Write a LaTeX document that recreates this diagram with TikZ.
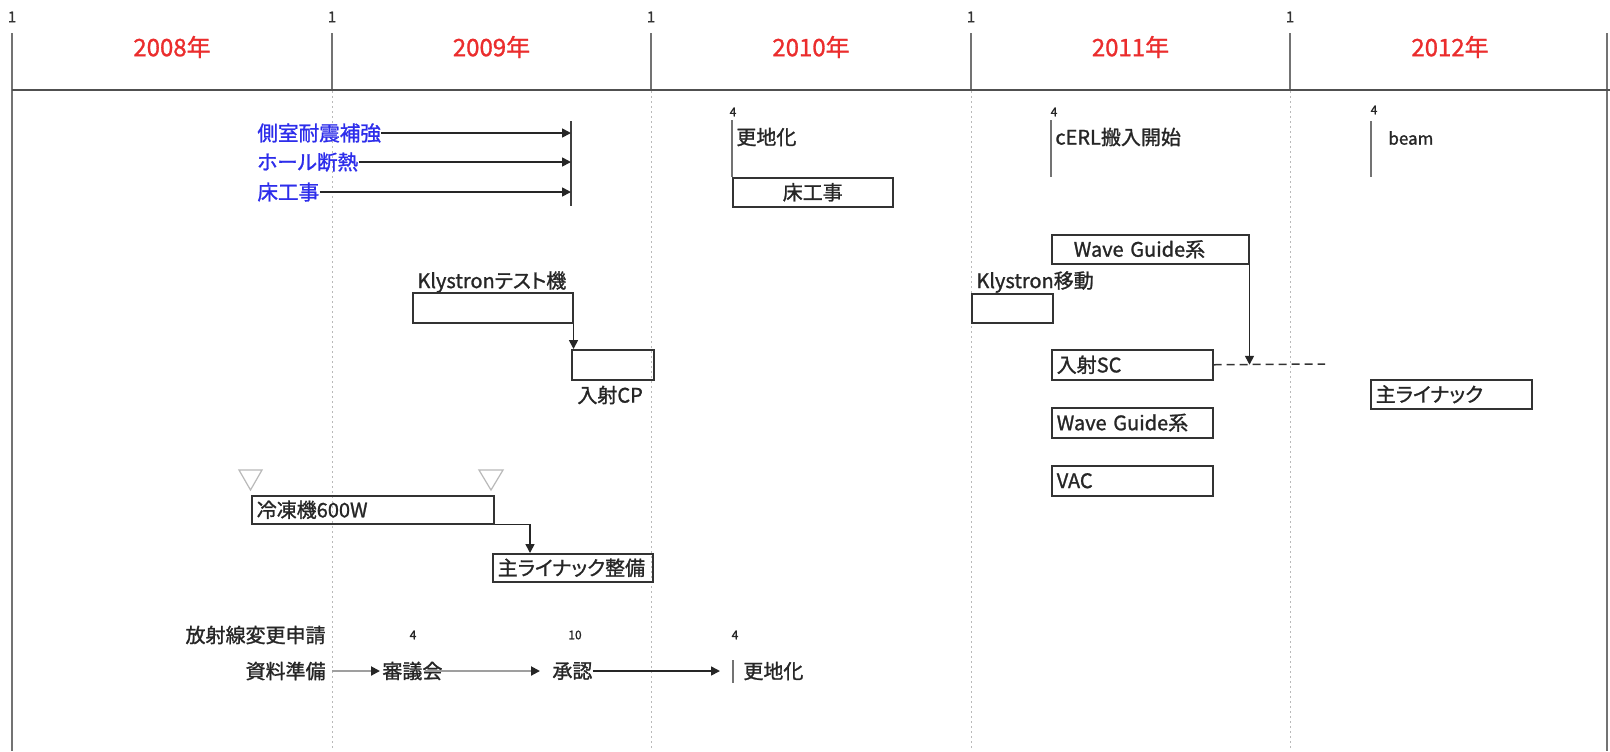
\documentclass[tikz,border=0pt]{standalone}
\usepackage{fontspec}
\setmainfont{Noto Sans CJK JP}[RawFeature=+palt]
\newfontfamily\jpmed{Noto Sans CJK JP}[RawFeature=+palt, FakeBold=1.2]
\usetikzlibrary{arrows.meta}
\definecolor{yearred}{RGB}{235,45,45}
\definecolor{jpblue}{RGB}{45,45,235}
\definecolor{gridgray}{RGB}{185,185,185}
\definecolor{linegray}{RGB}{115,115,115}
\definecolor{hdrline}{RGB}{80,80,80}
\begin{document}
\begin{tikzpicture}[x=0.5pt,y=-0.5pt,
  txt/.style={inner sep=0pt, font=\jpmed\fontsize{10}{12}\selectfont, text=black!85},
  bluetxt/.style={txt, text=jpblue, font=\jpmed\fontsize{10.3}{12}\selectfont},
  num/.style={inner sep=0pt, font=\jpmed\fontsize{6}{7}\selectfont, text=black!85},
  one/.style={inner sep=0pt, font=\jpmed\fontsize{7.5}{9}\selectfont, text=black!80},
  year/.style={inner sep=0pt, font=\jpmed\fontsize{12}{14}\selectfont, text=yearred},
  bx/.style={draw=black!80, line width=0.75pt, inner xsep=2.5pt, inner ysep=0pt, anchor=north west, font=\jpmed\fontsize{10}{12}\selectfont, text=black!85},
  arr/.style={-{Triangle[length=4.5pt,width=4.5pt]}, line width=0.8pt, draw=black!85},
  garr/.style={-{Triangle[length=4.5pt,width=4.5pt,color=black!85]}, line width=1pt, draw=gray!75},
  marker/.style={draw=linegray, line width=1pt},
  hdr/.style={draw=linegray, line width=1pt},
  grid/.style={draw=gridgray, line width=0.5pt, dash pattern=on 1pt off 1.5pt},
  tri/.style={draw=gray!55, line width=0.6pt}]
\useasboundingbox (0,0) rectangle (1610,751);
\fill[white] (0,0) rectangle (1610,751);

% ---------- header ----------
\draw[hdr] (12,33) -- (12,751);
\draw[hdr] (1607,33) -- (1607,751);
\foreach \x in {332,651,971,1290} {
  \draw[hdr] (\x,33) -- (\x,90);
  \draw[grid] (\x,91) -- (\x,751);
}
\draw[draw=hdrline, line width=1pt] (12,90) -- (1610,90);
\node[one] (oneA) at (12,17) {1};
\node[one] (oneB) at (332,17) {1};
\node[one] (oneC) at (651,17) {1};
\node[one] (oneD) at (971,17) {1};
\node[one] (oneE) at (1290,17) {1};
\node[year] (y2008) at (172,47) {2008年};
\node[year] (y2009) at (491.5,47) {2009年};
\node[year] (y2010) at (811,47) {2010年};
\node[year] (y2011) at (1130.5,47) {2011年};
\node[year] (y2012) at (1450,47) {2012年};

% ---------- building works ----------
\node[bluetxt, anchor=west] (seismic) at (257,133) {側室耐震補強};
\node[bluetxt, anchor=west] (holeins) at (257,162) {ホール断熱};
\node[bluetxt, anchor=west] (floorA) at (257,192) {床工事};
\coordinate (vtop) at (571,121);
\coordinate (vbot) at (571,206);
\draw[marker, draw=black!75] (vtop) -- (vbot);
\draw[arr] (seismic.east) -- (seismic.east -| vtop);
\draw[arr] (holeins.east) -- (holeins.east -| vtop);
\draw[arr] (floorA.east) -- (floorA.east -| vtop);

% 2010 top
\node[num] (n4a) at (733,112) {4};
\coordinate (m1top) at (732,120);
\node[bx, minimum width=80pt, minimum height=14.5pt, text width=75pt, align=center] (floorB) at (732,177) {床工事};
\draw[marker] (m1top) -- (floorB.north west);
\node[txt, anchor=west] (koA) at (736,137) {更地化};

% 2011 top
\node[num] (n4b) at (1054,112) {4};
\coordinate (m2top) at (1051,120);
\coordinate (m2bot) at (1051,177);
\draw[marker] (m2top) -- (m2bot);
\node[txt, anchor=west] (cerl) at (1055,137) {cERL搬入開始};

% 2012 top
\node[num] (n4c) at (1374,110) {4};
\coordinate (m3top) at (1371,121);
\coordinate (m3bot) at (1371,177);
\draw[marker] (m3top) -- (m3bot);
\node[txt, anchor=west, font=\jpmed\fontsize{8.5}{10}\selectfont] (beam) at (1388,138) {beam};

% ---------- klystron test ----------
\node[txt, anchor=west] (klyT) at (417,282) {Klystronテスト機};
\node[bx, minimum width=80pt, minimum height=15pt] (klyBox) at (412,292) {};
\node[bx, minimum width=41pt, minimum height=15pt] (cpBox) at (571,349) {};
\node[txt, anchor=west] (cpLbl) at (577,395) {入射CP};
\draw[arr] (klyBox.south east) -- (klyBox.south east |- cpBox.north);

% ---------- 2011 components ----------
\node[bx, minimum width=98.5pt, minimum height=14.5pt, text width=93.5pt, align=left] (wgTop) at (1051,234) {\hspace*{8.5pt}Wave Guide系};
\node[txt, anchor=west] (klyM) at (976,282) {Klystron移動};
\node[bx, minimum width=40.5pt, minimum height=14.5pt] (klyMBox) at (971,293) {};
\node[bx, minimum width=80.5pt, minimum height=15pt, text width=75.5pt, align=left] (injSC) at (1051,349) {入射SC};
\coordinate (dashEnd) at (1325,364);
\draw[draw=black!80, line width=0.75pt, dash pattern=on 4pt off 2.5pt] (injSC.east) -- (dashEnd);
\draw[arr] (wgTop.south east) -- (wgTop.south east |- injSC.east);
\node[bx, minimum width=80.5pt, minimum height=15pt, text width=75.5pt, align=left] (wg2) at (1051,407) {Wave Guide系};
\node[bx, minimum width=80.5pt, minimum height=15pt, text width=75.5pt, align=left] (vac) at (1051,465) {VAC};

% 2012 main linac
\node[bx, minimum width=80.5pt, minimum height=14.5pt, text width=75.5pt, align=left] (mlin) at (1370,379) {主ライナック};

% ---------- refrigerator ----------
\draw[tri] (239,470) -- (262,470) -- (250.5,490) -- cycle;
\draw[tri] (479,470) -- (503,470) -- (491,490) -- cycle;
\node[bx, minimum width=121pt, minimum height=14pt, text width=116pt, align=left] (refrig) at (251,495) {冷凍機600W};
\node[bx, minimum width=80pt, minimum height=14pt, text width=75pt, align=left] (mlp) at (492,553) {主ライナック整備};
\draw[arr] (refrig.south east) -| ([xshift=19pt]mlp.north west);

% ---------- radiation application ----------
\node[txt, anchor=east] (houshasen) at (326,635) {放射線変更申請};
\node[txt, anchor=east] (shiryo) at (326,671) {資料準備};
\node[num] (n4d) at (413,635) {4};
\node[txt, anchor=west] (shingi) at (382,671) {審議会};
\node[num] (n10) at (575,635) {10};
\node[txt, anchor=west] (shonin) at (552,671) {承認};
\node[num] (n4e) at (735,635) {4};
\coordinate (bartop) at (733,660);
\coordinate (barbot) at (733,683);
\draw[marker] (bartop) -- (barbot);
\node[txt, anchor=west] (koB) at (743,671) {更地化};
\draw[garr] ([xshift=3pt]shiryo.east) -- ([xshift=-1pt]shingi.west);
\draw[garr] ([xshift=-9pt]shingi.east) -- ([xshift=-6pt]shonin.west);
\draw[arr] (shonin.east) -- ([xshift=-6.5pt]bartop |- shonin.east);
\end{tikzpicture}
\end{document}
